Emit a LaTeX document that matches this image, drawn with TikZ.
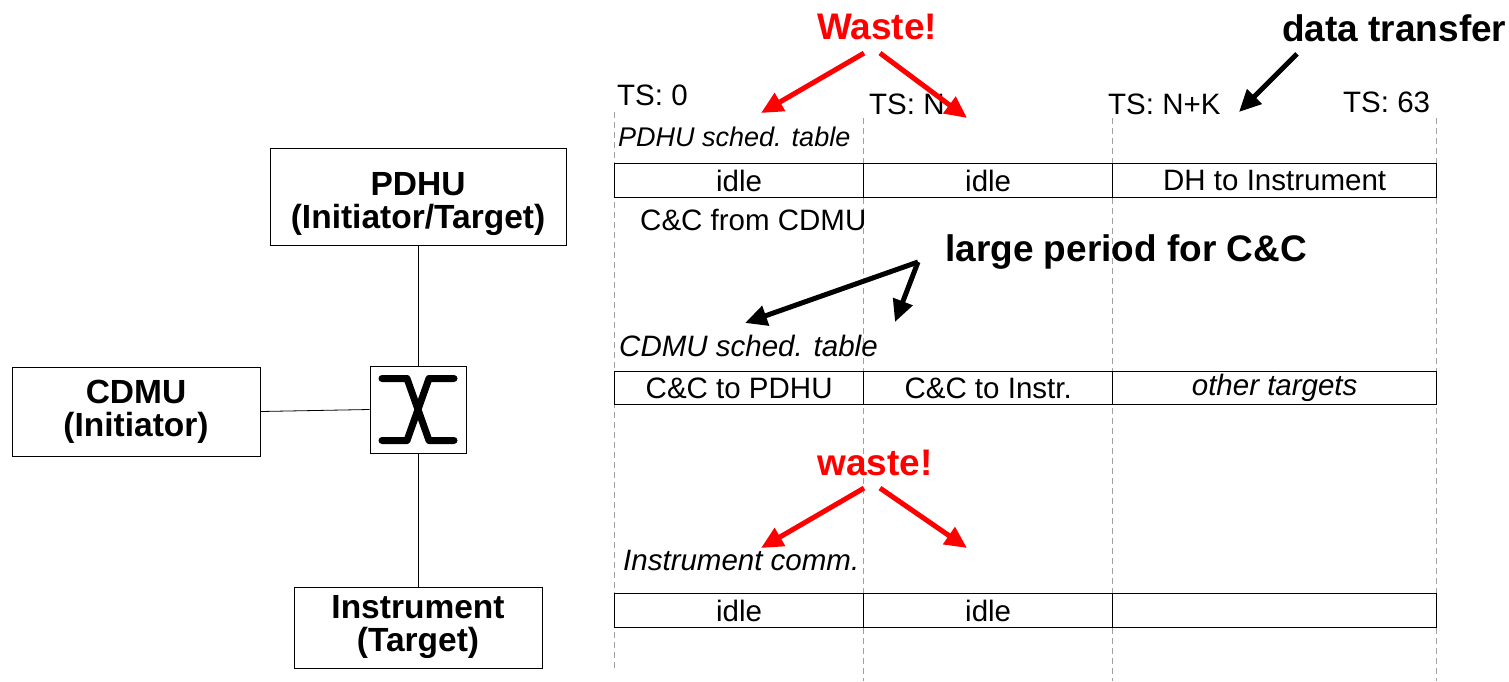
\documentclass[tikz,border=0pt]{standalone}
\usepackage{fontspec}
\setmainfont{Liberation Sans}
\usepackage{tikz}
\usetikzlibrary{arrows.meta}
\definecolor{ink}{HTML}{000000}
\definecolor{alarm}{HTML}{FF0000}
\definecolor{grid}{HTML}{A0A0A0}
\tikzset{
  unit/.style={draw=ink, line width=0.9pt, inner sep=0pt, align=center, font=\fontsize{33.5}{33}\selectfont\bfseries},
  cell/.style={draw=ink, line width=1.3pt, inner sep=0pt, anchor=north west, font=\fontsize{29.5}{30}\selectfont},
  help/.style={draw=grid, dash pattern=on 6pt off 4pt, line width=0.9pt},
  link/.style={draw=ink, line width=0.8pt},
  sym/.style={draw=ink, line width=7pt, line cap=round, line join=round},
  lab/.style={inner sep=0pt, anchor=west, font=\fontsize{29.5}{30}\selectfont},
  labi/.style={lab, font=\fontsize{29.5}{30}\selectfont\itshape},
  shout/.style={inner sep=0pt, font=\fontsize{37}{38}\selectfont\bfseries},
  redarr/.style={draw=alarm, line width=5pt, -{Triangle[length=22pt,width=20pt]}},
  blkarr/.style={draw=ink, line width=5pt, -{Triangle[length=22pt,width=20pt]}},
}

\begin{document}
\begin{tikzpicture}[x=1pt, y=-1pt]
  \useasboundingbox (0,0) rectangle (1509,681);

  % units and switch
  \node[unit, minimum width=296pt, minimum height=97pt] (pdhu) at (418,196.5) {\rule{0pt}{38pt}PDHU\\(Initiator/Target)};
  \node[unit, minimum width=248pt, minimum height=89pt] (cdmu) at (136,411.5) {CDMU\\(Initiator)};
  \node[unit, minimum width=248pt, minimum height=81pt] (instr) at (418,627.5) {Instrument\\(Target)};
  \node[unit, minimum width=96pt, minimum height=87pt] (sw) at (418,409.5) {};
  \begin{scope}[shift={(sw.center)}]
    \draw[sym] (-36,-31) -- (-11,-31) -- (0,0) -- (11,31) -- (36,31);
    \draw[sym] (36,-31) -- (11,-31) -- (0,0) -- (-11,31) -- (-36,31);
  \end{scope}

  \draw[link] (pdhu.south) -- (sw.north);
  \draw[link] (cdmu.east) -- (sw.west);
  \draw[link] (sw.south) -- (instr.north);

  % time slots
  \draw[help] (614,112) -- (614,670);
  \foreach \x in {863,1112,1436}
    \draw[help] (\x,118) -- (\x,681);

  \node[lab] (ts0) at (617,95) {TS: 0};
  \node[lab] (tsn) at (869,104) {TS: N};
  \node[lab] (tsnk) at (1108,104) {TS: N+K};
  \node[lab] (ts63) at (1343,102) {TS: 63};

  \node[labi, font=\fontsize{27}{28}\selectfont\itshape] (ptab) at (618,137) {PDHU sched. table};
  \node[cell, minimum width=249pt, minimum height=34pt] (p1) at (614,163) {idle};
  \node[cell, minimum width=249pt, minimum height=34pt] (p2) at (863,163) {idle};
  \node[cell, minimum width=324pt, minimum height=34pt] (p3) at (1112,163) {DH to Instrument};
  \node[lab] (ccin) at (640,220) {C\&C from CDMU};

  \node[labi] (ctab) at (619,346) {CDMU sched. table};
  \node[cell, minimum width=249pt, minimum height=33pt] (c1) at (614,371) {C\&C to PDHU};
  \node[cell, minimum width=249pt, minimum height=33pt] (c2) at (863,371) {C\&C to Instr.};
  \node[cell, minimum width=324pt, minimum height=33pt] (c3) at (1112,371) {\itshape other targets};

  \node[labi] (itab) at (623,560) {Instrument comm.};
  \node[cell, minimum width=249pt, minimum height=34pt] (i1) at (614,593) {idle};
  \node[cell, minimum width=249pt, minimum height=34pt] (i2) at (863,593) {idle};
  \node[cell, minimum width=324pt, minimum height=34pt] (i3) at (1112,593) {};

  % call-outs
  \node[shout, text=alarm] (waste1) at (877,27) {Waste!};
  \node[shout, anchor=west] (xfer) at (1282,28) {data transfer};
  \node[shout, anchor=west] (cc) at (945,252) {large period for C\&C};
  \node[shout, text=alarm] (waste2) at (875,463) {waste!};

  \coordinate (w1a) at (761,113);
  \coordinate (w1b) at (967,118);
  \coordinate (xa) at (1239,112);
  \coordinate (cca) at (745,323);
  \coordinate (ccb) at (895,322);
  \coordinate (w2a) at (761,548);
  \coordinate (w2b) at (967,548);

  \draw[redarr] ([xshift=-13pt,yshift=-13pt]waste1.south) -- (w1a);
  \draw[redarr] ([xshift=3pt,yshift=-13pt]waste1.south) -- (w1b);
  \draw[blkarr] ([xshift=15pt,yshift=-12pt]xfer.south west) -- (xa);
  \draw[blkarr] ([xshift=-27pt,yshift=-10pt]cc.west) -- (cca);
  \draw[blkarr] ([xshift=-27pt,yshift=-10pt]cc.west) -- (ccb);
  \draw[redarr] ([xshift=-11pt,yshift=-12pt]waste2.south) -- (w2a);
  \draw[redarr] ([xshift=5pt,yshift=-12pt]waste2.south) -- (w2b);
\end{tikzpicture}
\end{document}
